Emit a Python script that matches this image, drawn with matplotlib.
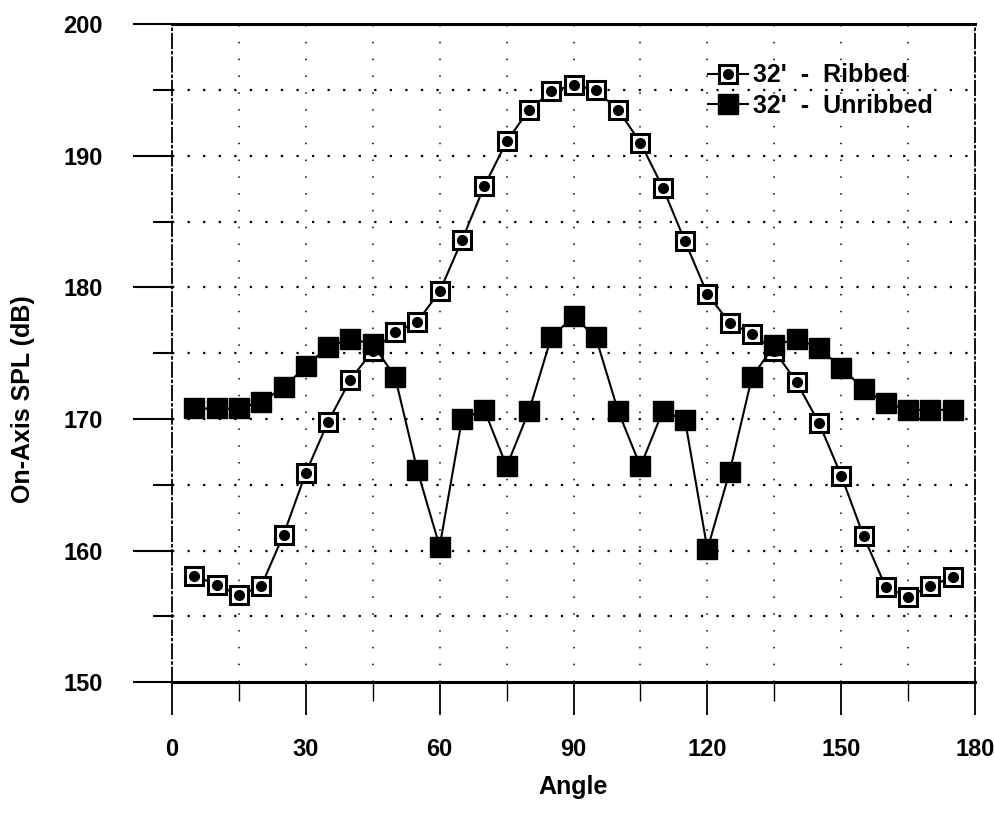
import matplotlib
matplotlib.use("Agg")
import matplotlib.pyplot as plt
from matplotlib.lines import Line2D
from matplotlib.legend_handler import HandlerTuple

plt.rcParams['font.family'] = ['Liberation Sans', 'DejaVu Sans']
plt.rcParams['font.weight'] = 'bold'

# data
angles = [5, 10, 15, 20, 25, 30, 35, 40, 45, 50, 55, 60, 65, 70, 75, 80, 85, 90,
          95, 100, 105, 110, 115, 120, 125, 130, 135, 140, 145, 150, 155, 160, 165, 170, 175]
ribbed = [158.1, 157.4, 156.6, 157.3, 161.2, 165.9, 169.8, 173.0, 175.2, 176.6, 177.4,
          179.7, 183.6, 187.7, 191.1, 193.5, 194.9, 195.4, 195.0, 193.5, 191.0, 187.6,
          183.5, 179.5, 177.3, 176.5, 175.2, 172.8, 169.7, 165.7, 161.1, 157.2, 156.5,
          157.3, 158.0]
unribbed = [170.8, 170.8, 170.8, 171.3, 172.4, 174.0, 175.5, 176.1, 175.7, 173.2, 166.1,
            160.3, 170.0, 170.7, 166.4, 170.6, 176.2, 177.8, 176.2, 170.6, 166.4, 170.6,
            169.9, 160.1, 166.0, 173.2, 175.6, 176.1, 175.4, 173.9, 172.3, 171.2, 170.7,
            170.7, 170.7]
xticks = [0, 30, 60, 90, 120, 150, 180]
yticks = [150, 160, 170, 180, 190, 200]

fig = plt.figure(figsize=(9.94, 8.13), dpi=100)
ax = fig.add_axes([0.173, 0.161, 0.808, 0.809])

# dotted grid
for v in range(15, 180, 15):
    ax.axvline(v, color='black', lw=1.1, ls=(0, (1, 10)), zorder=1)
for v in range(155, 200, 5):
    ax.axhline(v, color='black', lw=1.6, ls=(0, (1, 6)), zorder=1)

ax.plot(angles, ribbed, color='black', lw=1.5, marker='s', ms=12.5,
        mfc='white', mec='black', mew=2.2, zorder=3)
ax.plot(angles, ribbed, ls='none', marker='o', ms=7, color='black', zorder=4)
ax.plot(angles, unribbed, color='black', lw=1.5, marker='s', ms=14,
        mfc='black', mec='black', zorder=5)

ax.set_xlim(0, 180)
ax.set_ylim(150, 200)
ax.set_xticks(xticks)
ax.set_xticks(range(15, 180, 30), minor=True)
ax.set_yticks(yticks)
ax.set_yticks(range(155, 200, 10), minor=True)
ax.tick_params(axis='x', which='major', length=24, width=1.3, pad=16,
               labelsize=17, direction='out')
ax.tick_params(axis='x', which='minor', length=14, width=1.0, direction='out')
ax.tick_params(axis='y', which='major', length=28, width=1.5, pad=22,
               labelsize=17, direction='out')
ax.tick_params(axis='y', which='minor', length=14, width=1.5, direction='out')
for lab in ax.get_xticklabels() + ax.get_yticklabels():
    lab.set_fontweight('bold')

ax.spines['top'].set_linewidth(2.2)
ax.spines['bottom'].set_linewidth(2.2)
ax.spines['left'].set_linewidth(1.3)
ax.spines['left'].set_linestyle((0, (8, 2, 1, 2)))
ax.spines['right'].set_linewidth(1.3)
ax.spines['right'].set_linestyle((0, (8, 2, 1, 2)))

ax.set_xlabel('Angle', fontsize=18, fontweight='bold', labelpad=10)
ax.set_ylabel('On-Axis SPL (dB)', fontsize=18, fontweight='bold')
ax.yaxis.set_label_coords(-0.17, 0.43)

h_sq = Line2D([], [], color='black', lw=1.5, marker='s', ms=12.5, mfc='white',
              mec='black', mew=2.2)
h_dot = Line2D([], [], ls='none', marker='o', ms=7, color='black')
h_un = Line2D([], [], color='black', lw=1.5, marker='s', ms=14, mfc='black')
leg = ax.legend([(h_sq, h_dot), h_un], ["32'  -  Ribbed", "32'  -  Unribbed"],
                handler_map={tuple: HandlerTuple(ndivide=1, pad=0)},
                loc='upper right', bbox_to_anchor=(0.975, 0.975), frameon=False,
                handlelength=1.6, handletextpad=0.2, labelspacing=0.25,
                prop={'weight': 'bold', 'size': 18})

fig.savefig('out.png', dpi=100)
